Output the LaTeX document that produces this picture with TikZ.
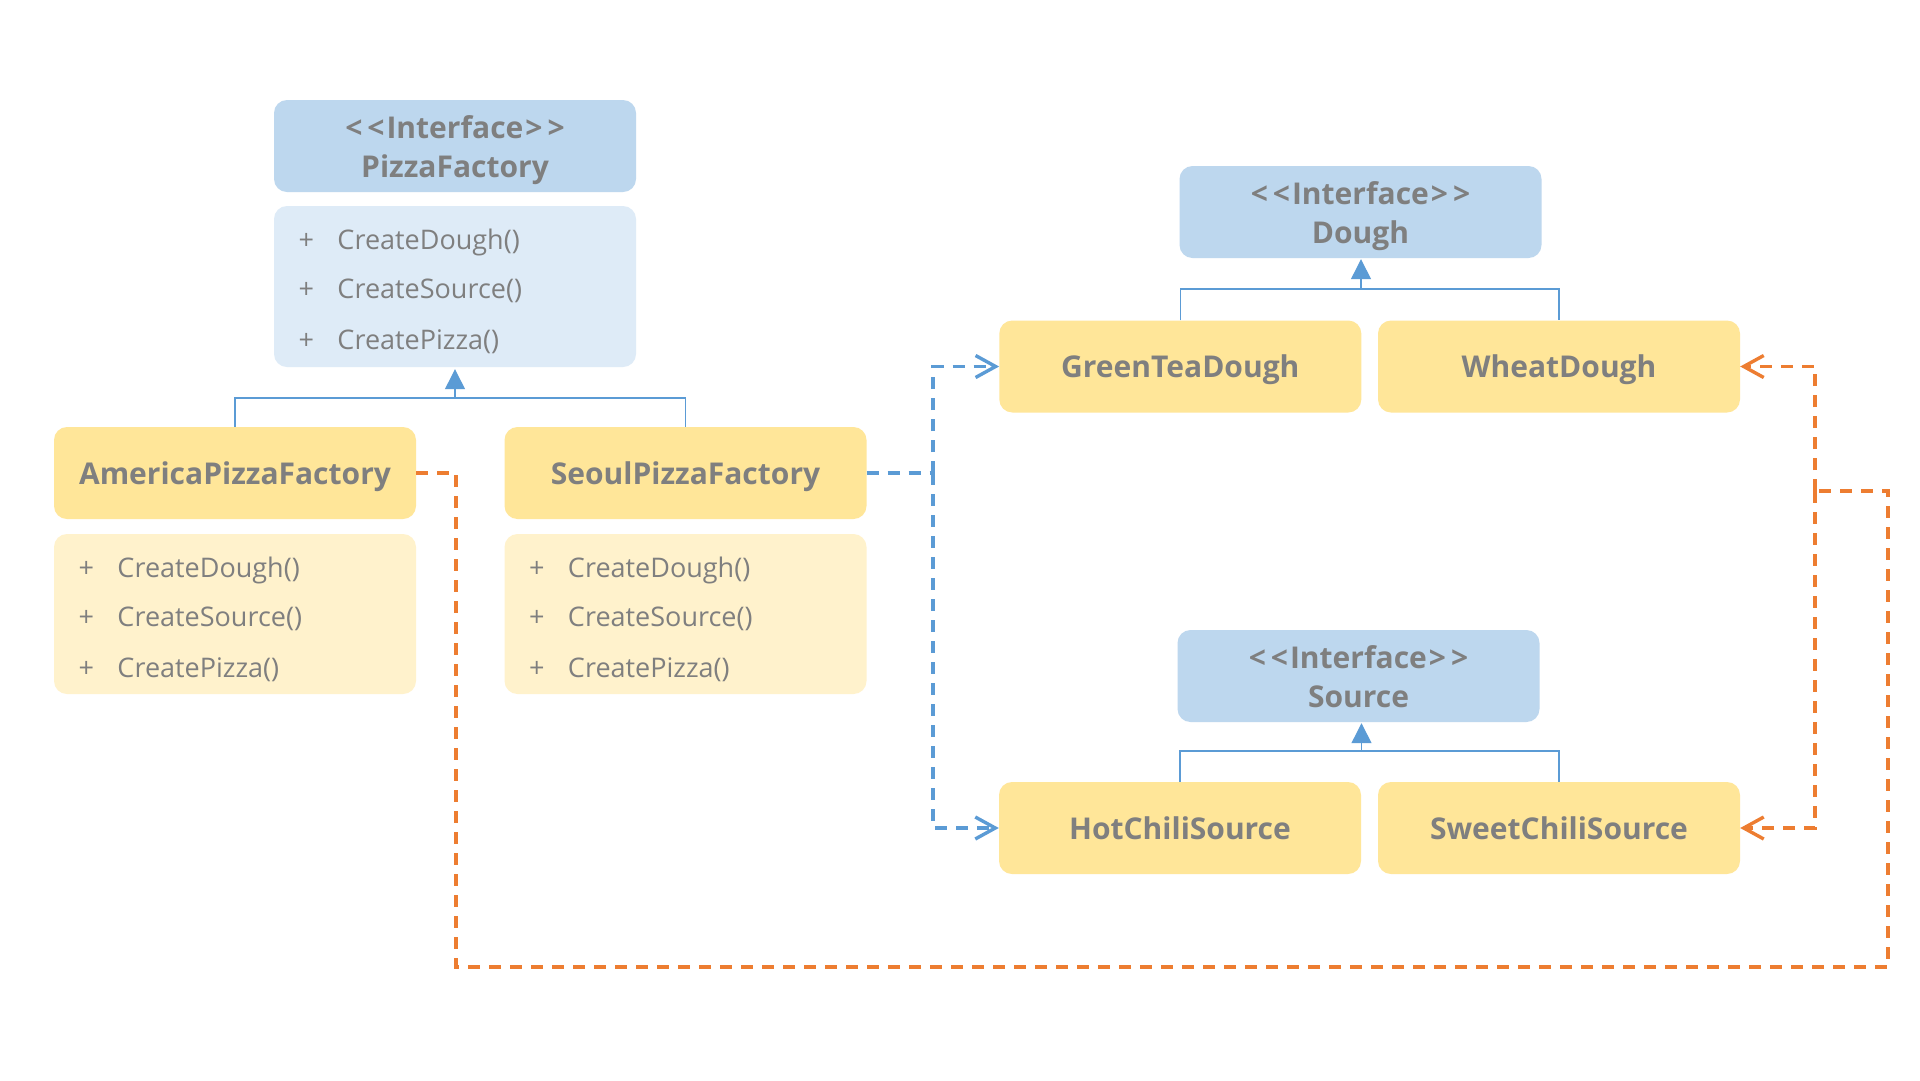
\documentclass[tikz,border=0pt]{standalone}
\usepackage{fontspec}
\setmainfont{Open Sans}
\usetikzlibrary{arrows.meta,calc}
\definecolor{hdrblue}{HTML}{BDD7EE}
\definecolor{methblue}{HTML}{DEEBF7}
\definecolor{classyel}{HTML}{FFE699}
\definecolor{methyel}{HTML}{FFF2CC}
\definecolor{txtgray}{HTML}{7F7F7F}
\definecolor{lineblue}{HTML}{5B9BD5}
\definecolor{orangec}{HTML}{ED7D31}
\newcommand\pztitlefont{\fontsize{30}{36}\selectfont\bfseries}
\newcommand\pzmethfont{\fontsize{27}{32}\selectfont}
\newcommand\pziface{<\kern5pt<\kern2pt Interface\kern2pt>\kern5pt>}
\tikzset{
  box/.style={rounded corners=13pt, minimum width=362pt, inner sep=0pt, draw=none},
  hdr/.style={box, fill=hdrblue, minimum height=92pt},
  mblue/.style={box, fill=methblue, minimum height=161pt},
  cls/.style={box, fill=classyel, minimum height=92pt, text=txtgray, font=\pztitlefont, text height=22pt, text depth=0pt},
  myel/.style={box, fill=methyel, minimum height=160pt},
  ttl/.style={text=txtgray, font=\pztitlefont, inner sep=0pt, anchor=base},
  mtxt/.style={text=txtgray, font=\pzmethfont, inner sep=0pt, anchor=base west},
  inh/.style={draw=lineblue, line width=1.3pt},
  inharrow/.style={inh, -{Triangle[length=20pt,width=20pt]}},
  bdep/.style={draw=lineblue, line width=3.4pt, dash pattern=on 12pt off 9pt},
  odep/.style={draw=orangec, line width=3.4pt, dash pattern=on 12pt off 9pt},
  deptip/.style={-{Straight Barb[length=20pt,width=22pt]}},
}
\newcommand\pzmethods[1]{%
  \node[mtxt] (#1a) at ($(#1.north west)+(24.5,43.5)$) {\makebox[39pt][l]{+}CreateDough()};
  \node[mtxt] (#1b) at ($(#1.north west)+(24.5,93)$) {\makebox[39pt][l]{+}CreateSource()};
  \node[mtxt] (#1c) at ($(#1.north west)+(24.5,143.5)$) {\makebox[39pt][l]{+}CreatePizza()};
}
\begin{document}
\begin{tikzpicture}[x=1pt,y=-1pt]
\useasboundingbox[fill=white] (0,0) rectangle (1920,1080);

% PizzaFactory interface
\node[hdr] (pfH) at (455,146) {};
\node[ttl] (pfH1) at ($(pfH.center)+(0,-8)$) {\pziface};
\node[ttl] (pfH2) at ($(pfH.center)+(0,31.5)$) {PizzaFactory};
\node[mblue] (pfM) at (455,286.5) {};
\pzmethods{pfM}

% concrete factories
\node[cls] (amH) at (235,473) {AmericaPizzaFactory};
\node[myel] (amM) at (235,614) {};
\pzmethods{amM}
\node[cls] (seH) at (685.5,473) {SeoulPizzaFactory};
\node[myel] (seM) at (685.5,614) {};
\pzmethods{seM}

% Dough
\node[hdr] (doH) at (1360.5,212) {};
\node[ttl] (doH1) at ($(doH.center)+(0,-8)$) {\pziface};
\node[ttl] (doH2) at ($(doH.center)+(0,31.5)$) {Dough};
\node[cls] (gtd) at (1180.3,366.5) {GreenTeaDough};
\node[cls] (wd) at (1559,366.5) {WheatDough};

% Source
\node[hdr] (soH) at (1358.5,676) {};
\node[ttl] (soH1) at ($(soH.center)+(0,-8)$) {\pziface};
\node[ttl] (soH2) at ($(soH.center)+(0,31.5)$) {Source};
\node[cls] (hcs) at (1180,828) {HotChiliSource};
\node[cls] (scs) at (1559,828) {SweetChiliSource};

% inheritance
\coordinate (j1) at (455,398);
\draw[inh] (amH.north) |- (j1) -| (seH.north);
\draw[inharrow] (j1) -- ($(pfM.south)+(0,2)$);
\coordinate (j2) at (1361,289);
\draw[inh] (gtd.north) |- (j2) -| (wd.north);
\draw[inharrow] (j2) -- ($(j2 |- doH.south)+(0,1)$);
\coordinate (j3) at (1361.5,751);
\draw[inh] (hcs.north) |- (j3) -| (scs.north);
\draw[inharrow] (j3) -- ($(j3 |- soH.south)+(0,1)$);

% dependencies (blue)
\coordinate (b1) at (933,473);
\draw[bdep] (seH.east) -- (b1);
\draw[bdep,deptip] (b1) |- (gtd.west);
\draw[bdep,deptip] (b1) |- (hcs.west);

% dependencies (orange)
\coordinate (o1) at (456,473);
\coordinate (o2) at (456,967);
\coordinate (o3) at (1888,967);
\coordinate (o4) at (1888,491);
\coordinate (o5) at (1815,491);
\draw[odep] (amH.east) -- (o1) -- (o2) -- (o3) -- (o4) -- (o5);
\draw[odep,deptip] (o5) |- (wd.east);
\draw[odep,deptip] (o5) |- (scs.east);
\end{tikzpicture}
\end{document}
